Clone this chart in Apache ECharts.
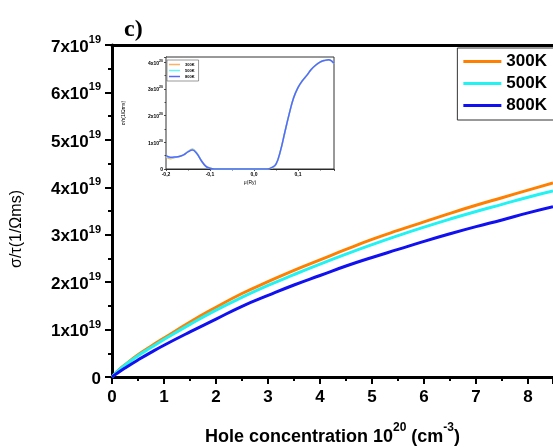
<!DOCTYPE html>
<html>
<head>
<meta charset="utf-8">
<script src="https://cdn.jsdelivr.net/npm/echarts@6/dist/echarts.min.js"></script>
<style>html,body{margin:0;padding:0;background:#fff}#c{width:553px;height:447px}</style>
</head>
<body>
<div id="c"></div>
<script>
// Main panel: hole concentration (10^20 cm^-3) vs sigma/tau (10^19)
const conc = [0, 0.1, 0.25, 0.5, 0.75, 1, 1.5, 2, 2.5, 3, 3.5, 4, 4.5, 5, 5.5, 6, 6.5, 7, 7.5, 8, 8.48];
const s300 = [0, 0.12, 0.26, 0.47, 0.65, 0.82, 1.16, 1.47, 1.76, 2.01, 2.25, 2.47, 2.69, 2.90, 3.09, 3.27, 3.45, 3.62, 3.78, 3.94, 4.09];
const s500 = [0, 0.115, 0.25, 0.45, 0.62, 0.79, 1.11, 1.41, 1.68, 1.93, 2.16, 2.38, 2.59, 2.79, 2.98, 3.16, 3.33, 3.49, 3.64, 3.79, 3.92];
const s800 = [0, 0.08, 0.19, 0.36, 0.52, 0.67, 0.95, 1.22, 1.49, 1.72, 1.94, 2.14, 2.34, 2.52, 2.69, 2.86, 3.02, 3.17, 3.31, 3.46, 3.59];
const seriesNames = ['300K', '500K', '800K'];

// Inset: chemical potential mu (Ry) vs sigma/tau
const mu   = [-0.2, -0.19, -0.18, -0.17, -0.16, -0.15, -0.14, -0.13, -0.12, -0.11, -0.10, -0.09, -0.05, 0, 0.03, 0.04, 0.05, 0.06, 0.07, 0.08, 0.09, 0.10, 0.11, 0.12, 0.13, 0.14, 0.15, 0.16, 0.17, 0.182];
const i300 = [0.45, 0.38, 0.43, 0.47, 0.53, 0.66, 0.75, 0.60, 0.33, 0.12, 0.03, 0, 0, 0, 0, 0.03, 0.16, 0.65, 1.35, 2.05, 2.65, 3.04, 3.30, 3.50, 3.72, 3.88, 4.00, 4.06, 4.09, 3.95];
const i500 = [0.48, 0.42, 0.44, 0.47, 0.53, 0.65, 0.73, 0.59, 0.32, 0.11, 0.03, 0, 0, 0, 0, 0.04, 0.17, 0.66, 1.36, 2.06, 2.66, 3.05, 3.31, 3.51, 3.73, 3.89, 4.01, 4.07, 4.10, 3.96];
const i800 = [0.50, 0.44, 0.45, 0.47, 0.53, 0.64, 0.71, 0.58, 0.32, 0.11, 0.03, 0, 0, 0, 0, 0.05, 0.18, 0.67, 1.37, 2.06, 2.66, 3.05, 3.31, 3.51, 3.73, 3.89, 4.01, 4.07, 4.10, 3.97];

const mainColors = ['#ff8000', '#22f2f2', '#1010f0'];
const insetColors = ['#ffb060', '#60f8f8', '#5868ff'];

const pairs = (xs, ys) => xs.map((x, i) => [x, ys[i]]);
const FONT = 'Liberation Sans, Arial, sans-serif';

const chart = echarts.init(document.getElementById('c'), null, {renderer: 'canvas'});
const mainSets = [s300, s500, s800];
const insetSets = [i300, i500, i800];

const series = [];
mainSets.forEach((d, k) => series.push({
  name: seriesNames[k], type: 'line', xAxisIndex: 0, yAxisIndex: 0,
  data: pairs(conc, d), smooth: true, showSymbol: false,
  lineStyle: {width: 3, color: mainColors[k]}, itemStyle: {color: mainColors[k]}, z: 5
}));
insetSets.forEach((d, k) => series.push({
  name: seriesNames[k] + ' ', type: 'line', xAxisIndex: 2, yAxisIndex: 1,
  data: pairs(mu, d), smooth: 0.4, showSymbol: false,
  lineStyle: {width: 1.5, color: insetColors[k]}, itemStyle: {color: insetColors[k]}, z: 5
}));

const option = {
  backgroundColor: '#fff',
  animation: false,
  title: {text: 'c)', left: 119, top: 13, textStyle: {fontFamily: 'Liberation Serif, Times New Roman, serif', fontWeight: 'bold', fontSize: 24, color: '#000'}},
  grid: [
    {left: 112, top: 45, right: 0, bottom: 70, outerBoundsMode: 'none', containLabel: false},
    {left: 166, top: 57, width: 168, height: 112, outerBoundsMode: 'none', containLabel: false, show: true, borderColor: '#333', borderWidth: 1, backgroundColor: '#fff', z: 4}
  ],
  legend: [
    {data: seriesNames, orient: 'vertical', right: -38, top: 48, padding: [5, 44, 6, 6],
     itemWidth: 38, itemHeight: 3, icon: 'rect', itemGap: 5,
     borderColor: '#333', borderWidth: 1,
     textStyle: {fontFamily: FONT, fontWeight: 'bold', fontSize: 17, lineHeight: 16, color: '#000'}},
    {data: seriesNames.map(n => n + ' '), orient: 'vertical', left: 167, top: 60, padding: [2, 4, 2, 2],
     itemWidth: 11, itemHeight: 1.5, icon: 'rect', itemGap: 1, z: 10,
     borderColor: '#555', borderWidth: 0.6,
     formatter: n => n.trim(),
     textStyle: {fontFamily: FONT, fontWeight: 'bold', fontSize: 4, lineHeight: 5, color: '#000'}}
  ],
  xAxis: [
    {type: 'value', gridIndex: 0, min: 0, max: 8.48, interval: 1,
     name: '{b|Hole concentration 10}{s|20}{b| (cm}{s|-3}{b|)}', nameLocation: 'middle', nameGap: 45,
     nameTextStyle: {rich: {
       b: {fontFamily: FONT, fontWeight: 'bold', fontSize: 18, color: '#000', lineHeight: 24, verticalAlign: 'bottom'},
       s: {fontFamily: FONT, fontWeight: 'bold', fontSize: 12, color: '#000', lineHeight: 12, verticalAlign: 'top'}}},
     axisLine: {show: true, onZero: false, lineStyle: {color: '#000', width: 3}},
     axisTick: {show: true, length: 7, lineStyle: {color: '#000', width: 2}},
     minorTick: {show: true, splitNumber: 2, length: 4, lineStyle: {color: '#000', width: 2}},
     splitLine: {show: false},
     axisLabel: {showMaxLabel: false, margin: 12, fontFamily: FONT, fontWeight: 'bold', fontSize: 17, color: '#000'}},
    {type: 'value', gridIndex: 0, position: 'top', min: 0, max: 8.48,
     axisLine: {show: true, onZero: false, lineStyle: {color: '#000', width: 3}},
     axisTick: {show: false}, axisLabel: {show: false}, splitLine: {show: false}},
    {type: 'value', gridIndex: 1, min: -0.2, max: 0.182, interval: 0.1,
     name: 'μ(Ry)', nameLocation: 'middle', nameGap: 11,
     nameTextStyle: {fontFamily: FONT, fontSize: 5, color: '#000'},
     axisLine: {show: true, onZero: false, lineStyle: {color: '#222', width: 1}},
     axisTick: {show: true, length: 2, lineStyle: {color: '#222', width: 0.8}},
     minorTick: {show: true, splitNumber: 2, length: 1.5, lineStyle: {color: '#222', width: 0.8}},
     splitLine: {show: false},
     axisLabel: {showMaxLabel: false, margin: 3, fontFamily: FONT, fontSize: 5, fontWeight: 'bold', color: '#000',
       formatter: v => v.toFixed(1).replace('.', ',')}}
  ],
  yAxis: [
    {type: 'value', gridIndex: 0, min: 0, max: 7, interval: 1,
     axisLine: {show: true, onZero: false, lineStyle: {color: '#000', width: 3}},
     axisTick: {show: true, length: 7, lineStyle: {color: '#000', width: 2}},
     minorTick: {show: true, splitNumber: 2, length: 4, lineStyle: {color: '#000', width: 2}},
     splitLine: {show: false},
     axisLabel: {margin: 11, formatter: v => v === 0 ? '{b|0}' : '{b|' + v + 'x10}{s|19}',
       rich: {
         b: {fontFamily: FONT, fontWeight: 'bold', fontSize: 17, color: '#000', lineHeight: 21, verticalAlign: 'bottom'},
         s: {fontFamily: FONT, fontWeight: 'bold', fontSize: 11, color: '#000', lineHeight: 11, verticalAlign: 'top'}}}},
    {type: 'value', gridIndex: 1, min: 0, max: 4.2, interval: 1,
     axisLine: {show: true, onZero: false, lineStyle: {color: '#222', width: 1}},
     axisTick: {show: true, length: 2, lineStyle: {color: '#222', width: 0.8}},
     minorTick: {show: true, splitNumber: 2, length: 1.5, lineStyle: {color: '#222', width: 0.8}},
     splitLine: {show: false},
     axisLabel: {showMaxLabel: false, margin: 3, formatter: v => v === 0 ? '{b|0}' : '{b|' + v + 'x10}{s|20}',
       rich: {
         b: {fontFamily: FONT, fontWeight: 'bold', fontSize: 5, color: '#000', lineHeight: 7, verticalAlign: 'bottom'},
         s: {fontFamily: FONT, fontWeight: 'bold', fontSize: 3.5, color: '#000', lineHeight: 3.5, verticalAlign: 'top'}}}}
  ],
  graphic: [
    {type: 'text', x: 17, y: 229, rotation: Math.PI / 2, z: 10,
     style: {text: 'σ/τ(1/Ωms)', fontFamily: FONT, fontSize: 16, fill: '#000', align: 'center', verticalAlign: 'middle'}},
    {type: 'text', x: 124, y: 113, rotation: Math.PI / 2, z: 10,
     style: {text: 'σ/τ(1/Ωms)', fontFamily: FONT, fontSize: 5, fill: '#000', align: 'center', verticalAlign: 'middle'}}
  ],
  series: series
};
chart.setOption(option);
</script>
</body>
</html>
